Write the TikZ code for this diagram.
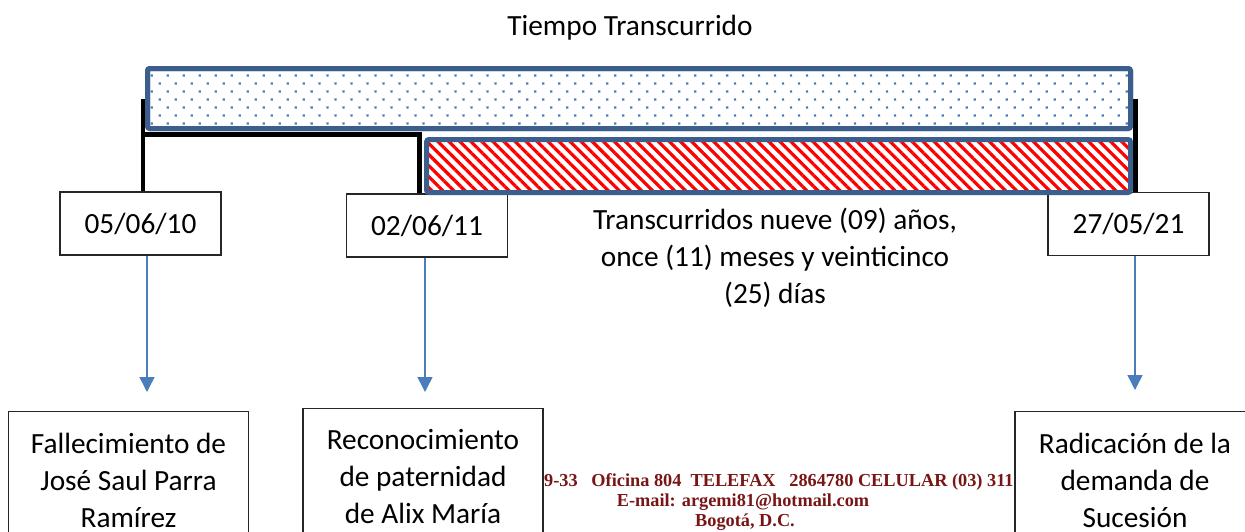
\documentclass[tikz,border=0pt]{standalone}
\usepackage{fontspec}
\setmainfont{Carlito}
\newfontfamily\footfont{Liberation Serif}
\usetikzlibrary{arrows.meta,patterns.meta,positioning}
\definecolor{barblue}{RGB}{59,94,140}
\definecolor{dotblue}{RGB}{74,126,187}
\definecolor{footred}{RGB}{120,22,22}

\begin{document}
\begin{tikzpicture}[x=1pt,y=-1pt,
  font=\fontsize{29.3}{37}\selectfont,
  datebox/.style={draw=black!85,line width=1.3pt,fill=white,
    minimum width=161pt,minimum height=63pt,inner sep=0pt},
  eventbox/.style={draw=black!85,line width=1.3pt,fill=white,align=center,
    anchor=north,minimum width=240pt,inner ysep=21pt},
  bar/.style={draw=barblue,line width=5pt,rounded corners=2.5pt,inner sep=0pt},
  bracket/.style={line width=4.5pt},
  evarrow/.style={dotblue,line width=1.5pt,-{Triangle[width=15pt,length=15pt]}},
  foot/.style={text=footred,font=\footfont\fontsize{18.3}{20}\selectfont\bfseries,inner sep=0pt}]
\useasboundingbox (0,0) rectangle (1245,531);
\clip (0,0) rectangle (1245,531);

% footer of the page, partly hidden behind the boxes
\node[foot,anchor=base west] (Addr) at (544,486)
  {9-33\ \ \ Oficina 804\ \ TELEFAX\ \ \ 2864780 CELULAR (03) 311};
\node[foot,anchor=base] (Mail) at (743,506) {E-mail: argemi81@hotmail.com};
\node[foot,anchor=base] (City) at (745,526) {Bogotá, D.C.};

\node (Title) at (630,28) {Tiempo Transcurrido};

\node[datebox] (D10) at (140.5,223.5) {05/06/10};
\node[datebox] (D11) at (427,225.5) {02/06/11};
\node[datebox] (D21) at (1128.5,224) {27/05/21};

\node[bar,minimum width=983pt,minimum height=60pt] (Total) at (639,98.5) {};
\coordinate (Knee) at (419.5,134.5);
\draw[bracket] ([xshift=-2pt]Total.west) -- ([xshift=2.5pt]D10.north);
\draw[bracket] ([xshift=2.5pt]D10.north |- Knee) -- (Knee) -- (Knee |- D11.north);
\draw[bracket] ([xshift=2.5pt]Total.east) -- ([xshift=2.5pt]Total.east |- D21.north);

\node[bar,minimum width=983pt,minimum height=60pt,
  pattern={Dots[distance=11.3pt,radius=1.6pt,angle=45]},pattern color=dotblue]
  at (Total) {};
\node[bar,minimum width=704pt,minimum height=53pt,
  pattern={Lines[angle=-45,distance=7.8pt,line width=3.2pt]},pattern color=red]
  (Span) at (778.5,166) {};

\node[align=center,anchor=north,inner sep=0pt] (Note) at (775,208)
  {Transcurridos nueve (09) años,\\ once (11) meses y veinticinco\\ (25) días};

\node[eventbox] (Death) at (128.5,411)
  {Fallecimiento de\\ José Saul Parra\\ Ramírez};
\node[eventbox] (Paternity) at (423,408)
  {Reconocimiento\\ de paternidad\\ de Alix María};
\node[eventbox] (Filing) at (1135,411)
  {Radicación de la\\ demanda de\\ Sucesión};

\coordinate (A10) at (147,392);
\coordinate (A11) at (425,392);
\coordinate (A21) at (1135,390);
\draw[evarrow] (D10.south -| A10) -- (A10);
\draw[evarrow] (D11.south -| A11) -- (A11);
\draw[evarrow] (D21.south -| A21) -- (A21);
\end{tikzpicture}
\end{document}
